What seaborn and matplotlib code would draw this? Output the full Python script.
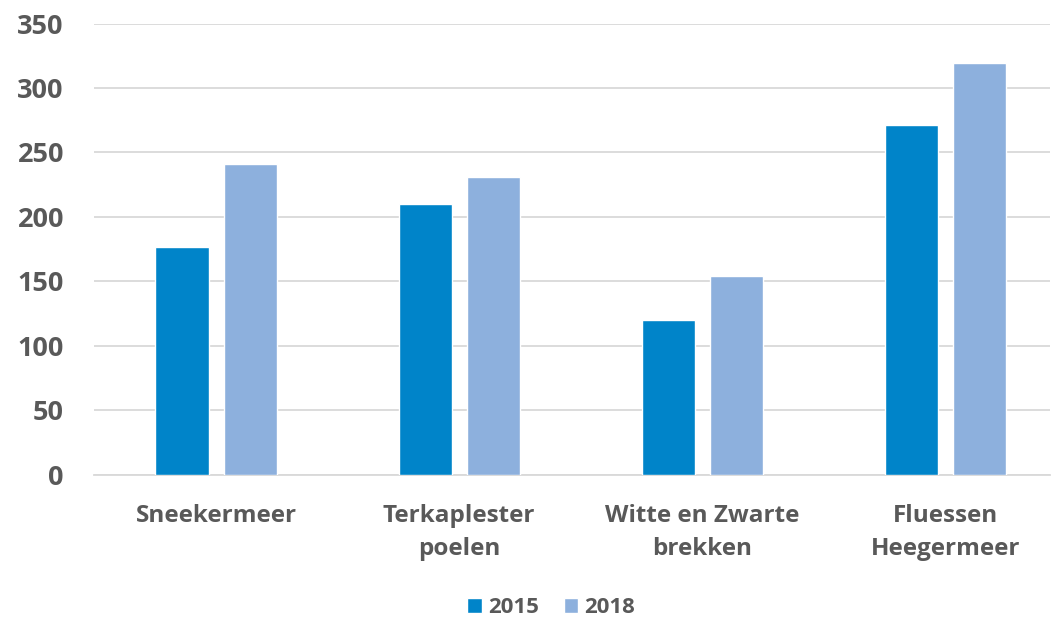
import matplotlib.pyplot as plt
import numpy as np
import pandas as pd
import seaborn as sns

# --------------------------------------------------------------
# Data
# --------------------------------------------------------------
lakes = ["Sneekermeer", "Terkaplester\npoelen", "Witte en Zwarte\nbrekken", "Fluessen\nHeegermeer"]
years = ["2015", "2018"]
values_2015 = [177, 210, 120, 271]
values_2018 = [241, 231, 154, 319]
y_ticks = [0, 50, 100, 150, 200, 250, 300, 350]

df = pd.DataFrame({
    "lake": lakes * 2,
    "year": [years[0]] * len(lakes) + [years[1]] * len(lakes),
    "value": values_2015 + values_2018,
})

# --------------------------------------------------------------
# Styling
# --------------------------------------------------------------
BLUE = "#0084C9"
LIGHTBLUE = "#8DB0DD"
GREY_TEXT = "#595959"
GRID = "#D9D9D9"

sns.set_style("white")
plt.rcParams["font.family"] = ["Open Sans", "DejaVu Sans"]

fig = plt.figure(figsize=(10.58, 6.19), dpi=100)
ax = fig.add_axes([0.0893, 0.233, 0.9030, 0.729])

sns.barplot(
    data=df,
    x="lake",
    y="value",
    hue="year",
    palette=[BLUE, LIGHTBLUE],
    width=0.56,
    gap=0.22,
    saturation=1,
    ax=ax,
    zorder=3,
)

ax.set_ylim(0, 350)
ax.set_xlim(-0.5, 3.43)
ax.set_yticks(y_ticks)
ax.set_yticklabels(y_ticks, fontsize=19.5, fontweight="bold", color=GREY_TEXT)
ax.set_xticklabels(lakes, fontsize=17.5, fontweight="bold", color=GREY_TEXT, linespacing=1.52)
ax.tick_params(axis="both", length=0)
ax.tick_params(axis="y", pad=22)
ax.tick_params(axis="x", pad=21)

ax.yaxis.grid(True, color=GRID, linewidth=1.3, zorder=0)
ax.set_axisbelow(True)
for s in ["top", "right", "left"]:
    ax.spines[s].set_visible(False)
ax.spines["bottom"].set_color(GRID)
ax.spines["bottom"].set_linewidth(1.3)

ax.set_xlabel("")
ax.set_ylabel("")

leg = ax.legend(
    loc="center",
    bbox_to_anchor=(0.521, 0.018),
    bbox_transform=fig.transFigure,
    ncol=2,
    frameon=False,
    handlelength=0.65,
    handleheight=0.65,
    handletextpad=0.3,
    columnspacing=1.1,
    prop={"size": 16, "weight": "bold"},
)
for t in leg.get_texts():
    t.set_color(GREY_TEXT)

fig.savefig("out.png", dpi=100)
